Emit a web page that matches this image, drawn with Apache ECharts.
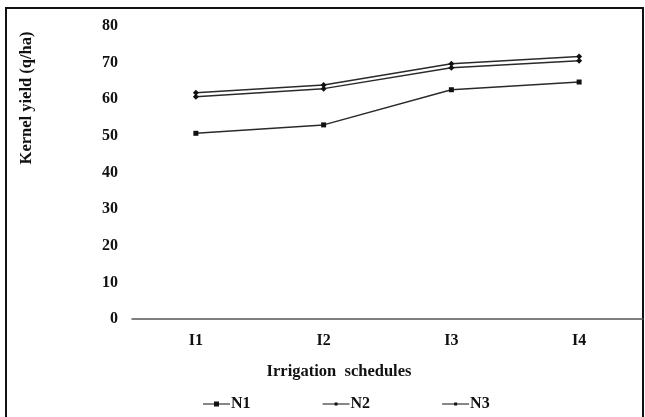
<!DOCTYPE html>
<html>
<head>
<meta charset="utf-8">
<script src="https://cdn.jsdelivr.net/npm/echarts@6/dist/echarts.min.js"></script>
<style>html,body{margin:0;padding:0;background:#fff;}#c{width:645px;height:417px;}</style>
</head>
<body>
<div id="c"></div>
<script>
const categories = ['I1', 'I2', 'I3', 'I4'];
const n1 = [50.7, 53.0, 62.6, 64.7];
const n2 = [60.7, 62.9, 68.6, 70.5];
const n3 = [61.8, 63.9, 69.7, 71.7];
const yTicks = [0, 10, 20, 30, 40, 50, 60, 70, 80];
const xTitle = 'Irrigation  schedules';
const yTitle = 'Kernel yield (q/ha)';

const FONT = '"Liberation Serif", "Times New Roman", serif';
const chart = echarts.init(document.getElementById('c'), null, {renderer: 'canvas'});
const lineColor = '#2a2a2a';
function ser(name, data, symbol, size) {
  return {
    name, type: 'line', data, symbol, symbolSize: size,
    lineStyle: {color: lineColor, width: 1.5},
    itemStyle: {color: '#111'},
    animation: false
  };
}
chart.setOption({
  animation: false,
  graphic: [
    {
      type: 'rect', shape: {x: 6, y: 8, width: 637, height: 420},
      style: {fill: 'none', stroke: '#111', lineWidth: 2}, silent: true
    },
    {
      type: 'text', x: 27, y: 98, rotation: Math.PI / 2,
      style: {text: yTitle, font: 'bold 16.5px ' + FONT, fill: '#111', align: 'center', verticalAlign: 'middle'}
    },
    {
      type: 'text', x: 339, y: 372,
      style: {text: xTitle, font: 'bold 16.5px ' + FONT, fill: '#111', align: 'center', verticalAlign: 'middle'}
    }
  ],
  grid: {left: 132, right: 2, top: 26, bottom: 98},
  legend: {
    left: 198, top: 391,
    itemWidth: 27, itemHeight: 8, itemGap: 72,
    textStyle: {fontFamily: FONT, fontWeight: 'bold', fontSize: 16, color: '#111', padding: [0, 0, 0, -4]},
    data: [
      {name: 'N1', icon: 'path://M0,4 L27,4 L27,5 L0,5 Z M11,2 L16,2 L16,7 L11,7 Z'},
      {name: 'N2', icon: 'path://M0,4 L27,4 L27,5 L0,5 Z M12,3 L15,3 L15,6 L12,6 Z'},
      {name: 'N3', icon: 'path://M0,4 L27,4 L27,5 L0,5 Z M12,3 L15,3 L15,6 L12,6 Z'}
    ]
  },
  xAxis: {
    type: 'category', data: categories, boundaryGap: true,
    axisLine: {lineStyle: {color: '#555', width: 1.5}},
    axisTick: {show: false},
    axisLabel: {fontFamily: FONT, fontWeight: 'bold', fontSize: 16, color: '#111', margin: 14}
  },
  yAxis: {
    type: 'value', min: yTicks[0], max: yTicks[yTicks.length - 1], interval: 10,
    axisLine: {show: false}, axisTick: {show: false}, splitLine: {show: false},
    axisLabel: {fontFamily: FONT, fontWeight: 'bold', fontSize: 16, color: '#111', margin: 14}
  },
  series: [
    ser('N1', n1, 'rect', 5),
    ser('N2', n2, 'diamond', 6),
    ser('N3', n3, 'diamond', 6)
  ]
});
</script>
</body>
</html>
